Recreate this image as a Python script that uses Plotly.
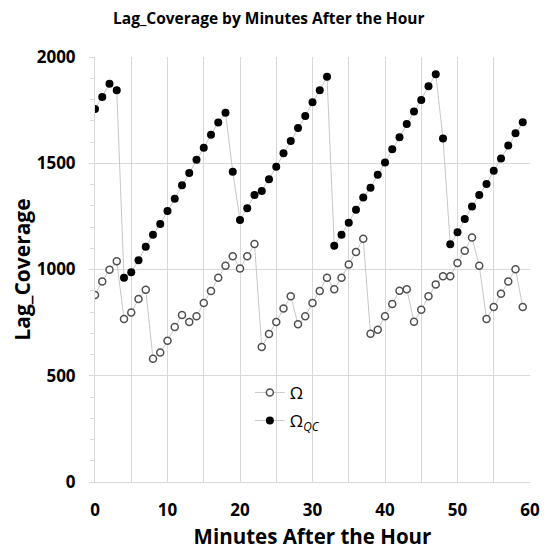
import plotly.graph_objects as go

minutes = list(range(60))
omega = [880, 944, 999, 1039, 767, 798, 861, 905, 580, 609,
         665, 729, 786, 753, 780, 842, 899, 961, 1018, 1062,
         1005, 1062, 1120, 635, 696, 753, 817, 874, 742, 780,
         842, 899, 961, 907, 961, 1024, 1082, 1145, 698, 717,
         780, 838, 900, 907, 754, 811, 874, 930, 968, 968,
         1031, 1088, 1151, 1018, 767, 824, 886, 944, 1001, 824]
omega_qc = [1755, 1812, 1874, 1843, 961, 987, 1043, 1107, 1164, 1214,
            1275, 1333, 1396, 1454, 1517, 1573, 1634, 1692, 1738, 1460,
            1233, 1288, 1351, 1370, 1425, 1484, 1547, 1605, 1666, 1722,
            1787, 1843, 1907, 1112, 1164, 1220, 1281, 1339, 1385, 1446,
            1503, 1566, 1622, 1685, 1743, 1798, 1862, 1919, 1617, 1119,
            1175, 1238, 1296, 1351, 1402, 1465, 1522, 1584, 1641, 1693]

FONT = "Open Sans"
fig = go.Figure()
fig.add_trace(go.Scatter(
    x=minutes, y=omega, mode="lines+markers", name="Ω", legendgroup="a",
    line=dict(color="#c8c8c8", width=1),
    marker=dict(symbol="circle", size=7, color="white",
                line=dict(color="#505050", width=1.5))))
fig.add_trace(go.Scatter(
    x=minutes, y=omega_qc, mode="lines+markers", name="Ω<sub><i>QC</i></sub>",
    legendgroup="b",
    line=dict(color="#c8c8c8", width=1),
    marker=dict(symbol="circle", size=8, color="black")))

fig.update_layout(
    width=540, height=542,
    margin=dict(l=87, r=18, t=49, b=68, autoexpand=False),
    paper_bgcolor="white", plot_bgcolor="white",
    title=dict(text="<b>Lag_Coverage by Minutes After the Hour</b>",
               x=0.483, xref="container", xanchor="center",
               y=0.9797, yref="container", yanchor="middle",
               font=dict(family=FONT, size=15.5, color="black")),
    font=dict(family=FONT, color="black"),
    showlegend=True,
    legend=dict(x=0.356, y=0.252, xanchor="left", yanchor="top",
                bgcolor="rgba(255,255,255,0)",
                traceorder="grouped", tracegroupgap=3,
                font=dict(family=FONT, size=17, color="black")),
)
fig.update_xaxes(
    automargin=False,
    range=[0, 60], dtick=10, tick0=0,
    showgrid=True, gridcolor="#d9d9d9", gridwidth=1,
    minor=dict(dtick=5, showgrid=True, gridcolor="#d9d9d9"),
    showline=True, linecolor="#d9d9d9", mirror=False,
    ticks="", zeroline=False, ticklabelstandoff=13,
    tickfont=dict(family=FONT, size=17, color="black", weight="bold"),
    title=dict(text="<b>Minutes After the Hour</b>", standoff=12,
               font=dict(family=FONT, size=20.5, color="black")),
)
fig.update_yaxes(
    automargin=False,
    range=[0, 2000], dtick=500, tick0=0,
    showgrid=True, gridcolor="#d9d9d9", gridwidth=1,
    showline=True, linecolor="#d9d9d9",
    ticks="outside", ticklen=5, tickcolor="#d9d9d9",
    minor=dict(dtick=100, ticks="outside", ticklen=4, tickcolor="#d9d9d9", showgrid=False),
    zeroline=False, ticklabelstandoff=10,
    tickfont=dict(family=FONT, size=17, color="black", weight="bold"),
    title=dict(text="<b>Lag_Coverage</b>", standoff=0,
               font=dict(family=FONT, size=21, color="black")),
)

fig.write_html("out.html")
